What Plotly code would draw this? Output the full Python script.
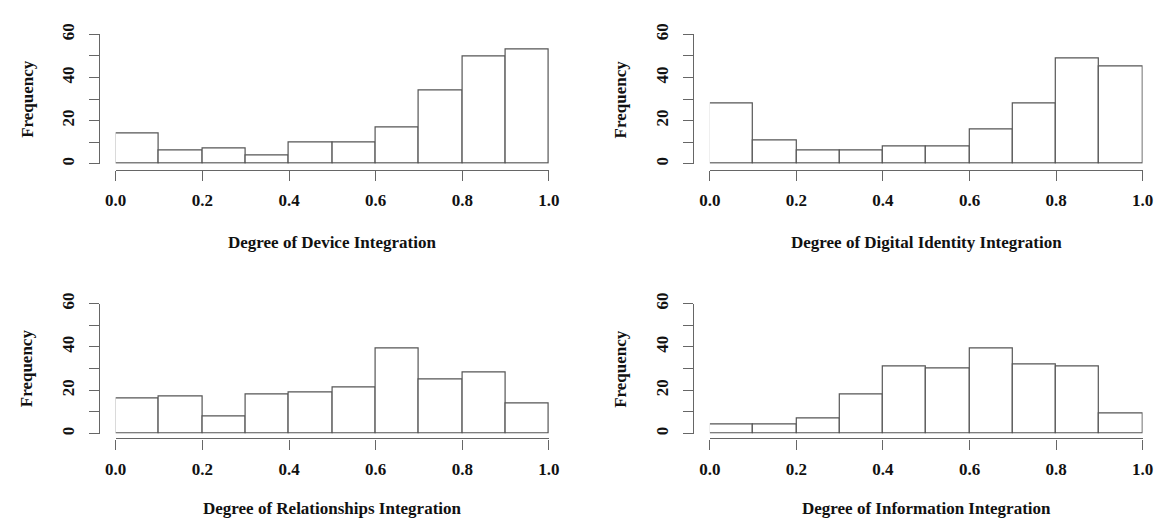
import plotly.graph_objects as go

# ---- data ----
bin_edges = [0.0, 0.1, 0.2, 0.3, 0.4, 0.5, 0.6, 0.7, 0.8, 0.9, 1.0]
device_counts = [14, 6, 7, 4, 10, 10, 17, 34, 50, 53]
identity_counts = [28, 11, 6, 6, 8, 8, 16, 28, 49, 45]
relationships_counts = [16, 17, 8, 18, 19, 21, 39, 25, 28, 14]
information_counts = [4, 4, 7, 18, 31, 30, 39, 32, 31, 9]

panel_titles = [
    "Degree of Device Integration",
    "Degree of Digital Identity Integration",
    "Degree of Relationships Integration",
    "Degree of Information Integration",
]
x_tick_vals = [0.0, 0.2, 0.4, 0.6, 0.8, 1.0]
x_tick_text = ["0.0", "0.2", "0.4", "0.6", "0.8", "1.0"]
y_tick_vals = [0, 10, 20, 30, 40, 50, 60]
y_tick_text = ["0", "", "20", "", "40", "", "60"]
y_label = "Frequency"

# ---- layout geometry (pixels) ----
W, H = 1169, 522
FONT = dict(family="Liberation Serif, Times New Roman, serif", size=17, color="#111111", weight="bold")
LINE = "#666666"
BAR_LINE = "#555555"

panels = [
    dict(counts=device_counts, x0=106.7, x1=548.3, yb=156.7, yt=24.0, xline=162.7, yline=90.0),
    dict(counts=identity_counts, x0=712.3, x1=1153.3, yb=156.7, yt=24.0, xline=162.7, yline=695.0),
    dict(counts=relationships_counts, x0=106.7, x1=548.3, yb=433.3, yt=300.0, xline=438.3, yline=90.0),
    dict(counts=information_counts, x0=712.3, x1=1153.3, yb=433.3, yt=300.0, xline=438.3, yline=695.0),
]
title_y_px = [237, 237, 510, 510]

fig = go.Figure()
centers = [(bin_edges[i] + bin_edges[i + 1]) / 2 for i in range(len(bin_edges) - 1)]
widths = [bin_edges[i + 1] - bin_edges[i] for i in range(len(bin_edges) - 1)]

for k, p in enumerate(panels):
    n = "" if k == 0 else str(k + 1)
    fig.add_trace(go.Bar(
        x=centers, y=p["counts"], width=widths,
        marker=dict(color="white", line=dict(color=BAR_LINE, width=1.2)),
        xaxis="x" + n, yaxis="y" + n, showlegend=False, hoverinfo="x+y",
    ))
    xd = [p["x0"] / W, p["x1"] / W]
    yd = [1 - p["yb"] / H, 1 - p["yt"] / H]
    fig.layout["xaxis" + n] = dict(
        domain=xd, range=[0, 1], anchor="free", position=1 - p["xline"] / H,
        showline=True, linecolor=LINE, linewidth=1.3, showgrid=False, zeroline=False,
        ticks="outside", ticklen=10, tickcolor=LINE, tickwidth=1.3,
        tickvals=x_tick_vals, ticktext=x_tick_text, tickfont=FONT,
        ticklabelstandoff=5,
    )
    fig.layout["yaxis" + n] = dict(
        domain=yd, range=[0, 60], anchor="free", position=p["yline"] / W,
        showline=True, linecolor=LINE, linewidth=1.3, showgrid=False, zeroline=False,
        ticks="outside", ticklen=10, tickcolor=LINE, tickwidth=1.3,
        tickvals=y_tick_vals, ticktext=y_tick_text, tickfont=FONT, tickangle=-90,
        ticklabelstandoff=8,
    )
    fig.add_annotation(
        text=panel_titles[k], xref="paper", yref="paper",
        x=(p["x0"] + p["x1"]) / 2 / W, y=1 - title_y_px[k] / H,
        xanchor="center", yanchor="middle", showarrow=False, font=FONT,
    )
    fig.add_annotation(
        text=y_label, xref="paper", yref="paper", textangle=-90,
        x=(p["yline"] - 74) / W, y=1 - (p["yb"] + p["yt"]) / 2 / H,
        xanchor="center", yanchor="middle", showarrow=False, font=FONT,
    )

fig.update_layout(
    width=W, height=H, autosize=False,
    margin=dict(l=0, r=0, t=0, b=0),
    paper_bgcolor="white", plot_bgcolor="white",
    bargap=0,
)

fig.write_html(
    "out.html",
    config={"displayModeBar": False},
    post_script="document.body.style.margin='0';document.body.style.overflow='hidden';",
)
